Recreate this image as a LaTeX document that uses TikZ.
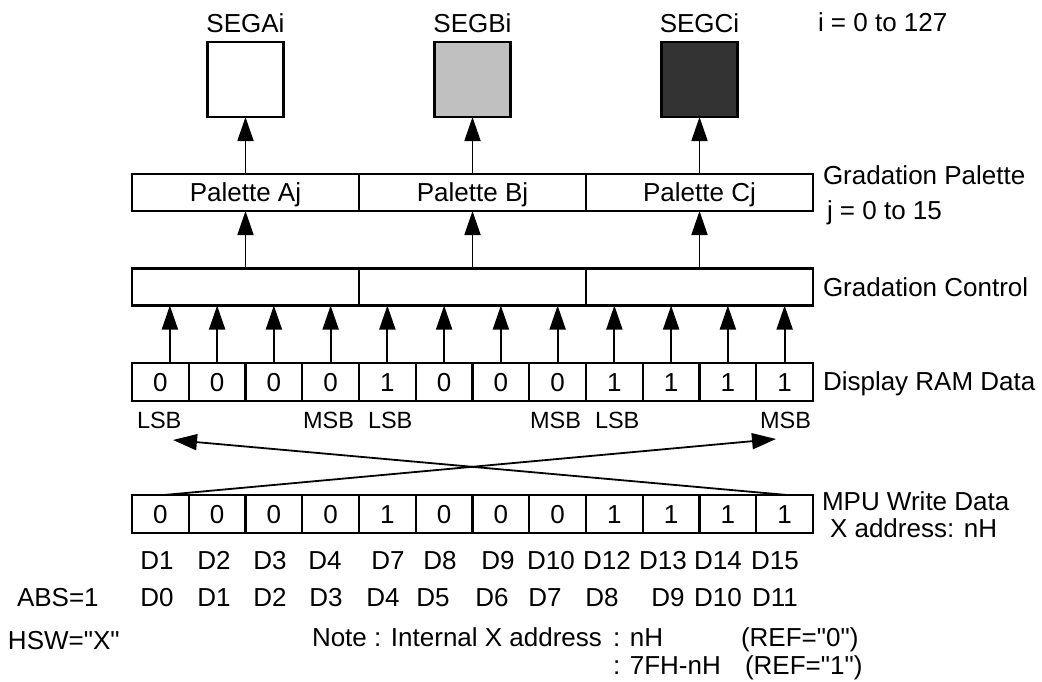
\documentclass[tikz,border=0pt]{standalone}
\usepackage{fontspec}
\setmainfont{Liberation Sans}
\usetikzlibrary{arrows.meta}
\begin{document}
\begin{tikzpicture}[x=1pt,y=-1pt,
  txt/.style={font=\fontsize{26}{31}\selectfont, inner sep=0pt, outer sep=0pt},
  small/.style={font=\fontsize{23.5}{28}\selectfont, inner sep=0pt, outer sep=0pt},
  cell/.style={draw, line width=2.1pt, minimum width=56.75pt, minimum height=38pt, inner sep=0pt, outer sep=0pt, font=\fontsize{26}{31}\selectfont, text height=18.7pt, text depth=0pt},
  wide/.style={cell, minimum width=227pt, minimum height=37pt},
  seg/.style={draw, line width=2.1pt, minimum width=76pt, minimum height=75pt, inner sep=0pt, outer sep=0pt},
  arr/.style={line width=1.8pt, -{Triangle[length=24pt,width=16pt]}},
]
\useasboundingbox (0,0) rectangle (1042,681);

% segment squares
\node[seg, fill=white] (segA) at (245.5,79.5) {};
\node[seg, fill={rgb,255:red,192;green,192;blue,192}] (segB) at (472.5,79.5) {};
\node[seg, fill={rgb,255:red,51;green,51;blue,51}] (segC) at (699.5,79.5) {};
\node[txt, anchor=base] (lA) at (245.5,32.5) {SEGAi};
\node[txt, anchor=base] (lB) at (472.5,32.5) {SEGBi};
\node[txt, anchor=base] (lC) at (699.5,32.5) {SEGCi};
\node[txt, anchor=base west] (li) at (818,31.5) {i = 0 to 127};

% palettes
\node[wide] (palA) at (245.5,192.5) {Palette Aj};
\node[wide] (palB) at (472.5,192.5) {Palette Bj};
\node[wide] (palC) at (699.5,192.5) {Palette Cj};
\node[txt, anchor=base west] (lgp) at (823,184.5) {Gradation Palette};
\node[txt, anchor=base west] (lj) at (827,219.5) {j = 0 to 15};

% gradation control
\node[wide] (ctlA) at (245.5,287) {};
\node[wide] (ctlB) at (472.5,287) {};
\node[wide] (ctlC) at (699.5,287) {};
\node[txt, anchor=base west] (lgc) at (823,296.5) {Gradation Control};

% display RAM data and MPU write data
\foreach \v [count=\i] in {0,0,0,0,1,0,0,0,1,1,1,1} {
  \node[cell] (r\i) at ({132+56.75*(\i-0.5)},382) {\v};
  \node[cell] (m\i) at ({132+56.75*(\i-0.5)},514) {\v};
}
\node[txt, anchor=base west] (lram) at (823,390.5) {Display RAM Data};
\node[txt, anchor=base west] (lmpu) at (822,510.5) {MPU Write Data};
\node[txt, anchor=base west] (lxa) at (830,537.5) {X address: nH};

% arrows
\draw[arr] (palA.north) -- (segA.south);
\draw[arr] (palB.north) -- (segB.south);
\draw[arr] (palC.north) -- (segC.south);
\draw[arr] (ctlA.north) -- (palA.south);
\draw[arr] (ctlB.north) -- (palB.south);
\draw[arr] (ctlC.north) -- (palC.south);
\draw[arr] ([xshift=9.5pt]r1.north) -- ([xshift=9.5pt]r1.north |- ctlA.south);
\foreach \i in {2,...,12} {
  \draw[arr] (r\i.north) -- (r\i.north |- ctlA.south);
}

% LSB / MSB
\node[small, anchor=base west] (lsb1) at (137,428.5) {LSB};
\node[small, anchor=base west] (lsb2) at (368,428.5) {LSB};
\node[small, anchor=base west] (lsb3) at (595,428.5) {LSB};
\node[small, anchor=base east] (msb1) at (354,428.5) {MSB};
\node[small, anchor=base east] (msb2) at (581,428.5) {MSB};
\node[small, anchor=base east] (msb3) at (811,428.5) {MSB};

% crossing arrows
\coordinate (tipL) at (173,440);
\coordinate (tipR) at (776,439);
\draw[arr] ([xshift=3.6pt]m1.north) -- (tipR);
\draw[arr] ([xshift=2.4pt]m12.north) -- (tipL);

% D labels
\foreach \t/\x [count=\k] in {D1/157,D2/214,D3/270,D4/325,D7/388,D8/440,D9/498,D10/551,D12/607,D13/663,D14/718,D15/775}
  \node[txt, anchor=base] (da\k) at (\x,569) {\t};
\foreach \t/\x [count=\k] in {D0/157,D1/214,D2/270,D3/326,D4/383,D5/433,D6/492,D7/545,D8/602,D9/668,D10/718,D11/775}
  \node[txt, anchor=base] (db\k) at (\x,606) {\t};
\node[txt, anchor=base west] (labs) at (17,606) {ABS=1};
\node[txt, anchor=base west] (lhsw) at (8,649) {HSW=\textquotedbl X\textquotedbl};

% note
\node[txt, anchor=base west] (n1) at (312,646) {Note : Internal X address};
\node[txt, anchor=base west] (n2) at (613,646) {: nH};
\node[txt, anchor=base west] (n3) at (741,646) {(REF=\textquotedbl 0\textquotedbl)};
\node[txt, anchor=base west] (n4) at (613,674) {: 7FH-nH};
\node[txt, anchor=base west] (n5) at (745,674) {(REF=\textquotedbl 1\textquotedbl)};
\end{tikzpicture}
\end{document}
